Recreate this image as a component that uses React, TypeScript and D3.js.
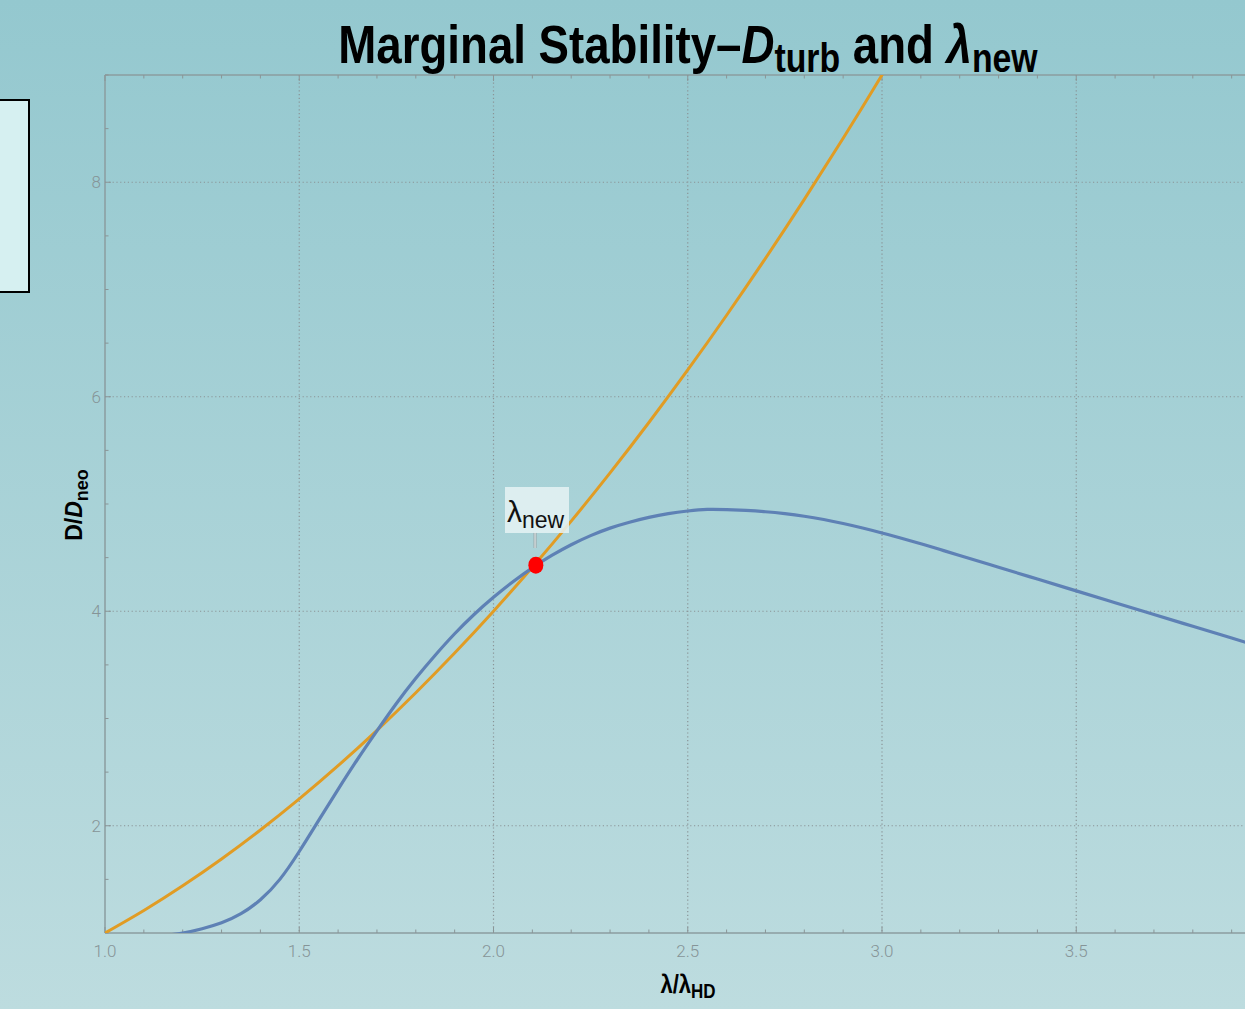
import React from "react";
import * as d3 from "d3";

const W = 1245;
const H = 1009;

// Orange curve, sampled every 0.1 in λ/λHD
const orangeX = [1.0, 1.1, 1.2, 1.3, 1.4, 1.5, 1.6, 1.7, 1.8, 1.9, 2.0, 2.1, 2.2, 2.3, 2.4, 2.5, 2.6, 2.7, 2.8, 2.9, 3.0, 3.1];
const orangeY = [1.0, 1.21, 1.44, 1.69, 1.96, 2.25, 2.56, 2.89, 3.24, 3.61, 4.0, 4.41, 4.84, 5.29, 5.76, 6.25, 6.76, 7.29, 7.84, 8.41, 9.0, 9.61];

// Blue curve D_turb
const blueX = [1.15, 1.2, 1.25, 1.3, 1.35, 1.4, 1.45, 1.5, 1.55, 1.6, 1.65, 1.7, 1.75, 1.8, 1.85, 1.9, 1.95, 2.0, 2.05, 2.1, 2.15, 2.2, 2.25, 2.3, 2.35, 2.4, 2.45, 2.5, 2.55, 2.6, 2.65, 2.7, 2.75, 2.8, 2.85, 2.9, 2.95, 3.0, 3.05, 3.1, 3.15, 3.2, 3.3, 3.4, 3.5, 3.6, 3.7, 3.8, 3.9, 4.0];
const blueY = [0.975, 1.0, 1.04, 1.095, 1.18, 1.31, 1.5, 1.76, 2.05, 2.34, 2.62, 2.885, 3.14, 3.375, 3.59, 3.79, 3.97, 4.13, 4.275, 4.405, 4.52, 4.62, 4.705, 4.775, 4.83, 4.875, 4.91, 4.935, 4.95, 4.948, 4.94, 4.928, 4.91, 4.886, 4.855, 4.818, 4.776, 4.73, 4.681, 4.629, 4.575, 4.52, 4.41, 4.3, 4.19, 4.08, 3.97, 3.86, 3.75, 3.64];

// Marked intersection
const markX = 2.109;
const markY = 4.43;

const xTicks = [1.0, 1.5, 2.0, 2.5, 3.0, 3.5];
const yTicks = [2, 4, 6, 8];
const xDomain = [1, 4];
const yDomain = [1, 9];

export default function App() {
  const left = 105;
  const right = 1270.5;
  const top = 75;
  const bottom = 933;
  const x = d3.scaleLinear().domain(xDomain).range([left, right]);
  const y = d3.scaleLinear().domain(yDomain).range([bottom, top]);

  const orangeData = orangeX.map((v, i) => [v, orangeY[i]] as [number, number]);
  const blueData = blueX.map((v, i) => [v, blueY[i]] as [number, number]);
  const line = d3
    .line<[number, number]>()
    .x((d) => x(d[0]))
    .y((d) => y(d[1]))
    .curve(d3.curveNatural);

  const minorX = d3.range(10, 41).map((v) => v / 10);
  const minorY = d3.range(2, 19).map((v) => v / 2);
  const axisColor = "#8b9c9f";
  const tickColor = "#8a9597";

  const px = x(markX);
  const py = y(markY);

  return (
    <svg width={W} height={H} style={{ position: "absolute", left: 0, top: 0 }}>
      <defs>
        <linearGradient id="bg" x1="0" y1="0" x2="0" y2="1">
          <stop offset="0" stopColor="#94c8cf" />
          <stop offset="1" stopColor="#bddcdf" />
        </linearGradient>
        <clipPath id="plotclip">
          <rect x={left} y={top} width={right - left} height={bottom - top} />
        </clipPath>
      </defs>
      <rect x={0} y={0} width={W} height={H} fill="url(#bg)" />

      {/* legend box remnant */}
      <rect x={-10} y={100} width={39} height={192} fill="#d6f0f1" stroke="#000" strokeWidth={2} />

      {/* grid */}
      {xTicks.slice(1).map((t) => (
        <line key={"gx" + t} x1={x(t)} x2={x(t)} y1={top} y2={bottom} stroke="#8a9497" strokeWidth={1.2} strokeDasharray="1.2,2.6" />
      ))}
      {yTicks.map((t) => (
        <line key={"gy" + t} x1={left} x2={W} y1={y(t)} y2={y(t)} stroke="#8a9497" strokeWidth={1.2} strokeDasharray="1.2,2.6" />
      ))}

      {/* frame */}
      <line x1={left} x2={W} y1={bottom} y2={bottom} stroke={axisColor} strokeWidth={1.5} />
      <line x1={left} x2={W} y1={top} y2={top} stroke={axisColor} strokeWidth={1.5} />
      <line x1={left} x2={left} y1={top} y2={bottom} stroke={axisColor} strokeWidth={1.5} />

      {/* x ticks (bottom and top) */}
      {minorX.map((t, i) => {
        const major = i % 5 === 0;
        const len = major ? 6 : 3.5;
        return (
          <g key={"tx" + t}>
            <line x1={x(t)} x2={x(t)} y1={bottom} y2={bottom - len} stroke={tickColor} strokeWidth={1} />
            <line x1={x(t)} x2={x(t)} y1={top} y2={top + len} stroke={tickColor} strokeWidth={1} />
          </g>
        );
      })}
      {minorY.map((t) => {
        const major = Number.isInteger(t) && t % 2 === 0;
        const len = major ? 6 : 3.5;
        return <line key={"ty" + t} x1={left} x2={left + len} y1={y(t)} y2={y(t)} stroke={tickColor} strokeWidth={1} />;
      })}

      {/* tick labels */}
      {xTicks.map((t) => (
        <text key={"lx" + t} x={x(t)} y={957} textAnchor="middle" fontFamily="Roboto, 'Liberation Sans', sans-serif" fontWeight={300} fontSize={17} fill="#869497">
          {t.toFixed(1)}
        </text>
      ))}
      {yTicks.map((t) => (
        <text key={"ly" + t} x={101} y={y(t) + 6} textAnchor="end" fontFamily="Roboto, 'Liberation Sans', sans-serif" fontWeight={300} fontSize={17} fill="#869497">
          {t}
        </text>
      ))}

      {/* curves */}
      <g clipPath="url(#plotclip)">
        <path d={line(orangeData) || ""} fill="none" stroke="#e19c24" strokeWidth={3} />
        <path d={line(blueData) || ""} fill="none" stroke="#5e81b5" strokeWidth={3.2} />
      </g>

      {/* label callout */}
      <line x1={px - 0.8} x2={px - 0.8} y1={532} y2={548} stroke="#9aa5a8" strokeWidth={3} />
      <line x1={px - 0.8} x2={px - 0.8} y1={532} y2={548} stroke="#e8f2f3" strokeWidth={1} />
      <rect x={505} y={487} width={64} height={46} fill="#e6f3f4" fillOpacity={0.85} />
      <text x={507} y={522} fontFamily="'Liberation Sans', Arimo, sans-serif" fontSize={30} fill="#111">
        λ<tspan fontSize={23} dy={6}>new</tspan>
      </text>
      <ellipse cx={px} cy={py} rx={7.5} ry={8.5} fill="#ff0000" />

      {/* title */}
      <g transform="translate(688,0) scale(0.845,1) translate(-688,0)">
        <text x={688} y={63} textAnchor="middle" fontFamily="'Liberation Sans', sans-serif" fontWeight="bold" fontSize={54} fill="#000">
          Marginal Stability–<tspan fontStyle="italic">D</tspan>
          <tspan fontSize={40} dy={9}>turb</tspan>
          <tspan dy={-9}> and </tspan>
          <tspan fontStyle="italic">λ</tspan>
          <tspan fontSize={40} dy={9}>new</tspan>
        </text>
      </g>

      {/* axis labels */}
      <g transform="translate(688,0) scale(0.85,1) translate(-688,0)">
        <text x={688} y={993} textAnchor="middle" fontFamily="'Liberation Sans', sans-serif" fontWeight="bold" fontSize={26} fill="#000">
          λ/λ<tspan fontSize={20} dy={5}>HD</tspan>
        </text>
      </g>
      <text transform={`translate(82,505) rotate(-90)`} textAnchor="middle" fontFamily="'Liberation Sans', sans-serif" fontWeight="bold" fontSize={23} fill="#000">
        D/<tspan fontStyle="italic">D</tspan>
        <tspan fontSize={18} dy={6}>neo</tspan>
      </text>
    </svg>
  );
}
